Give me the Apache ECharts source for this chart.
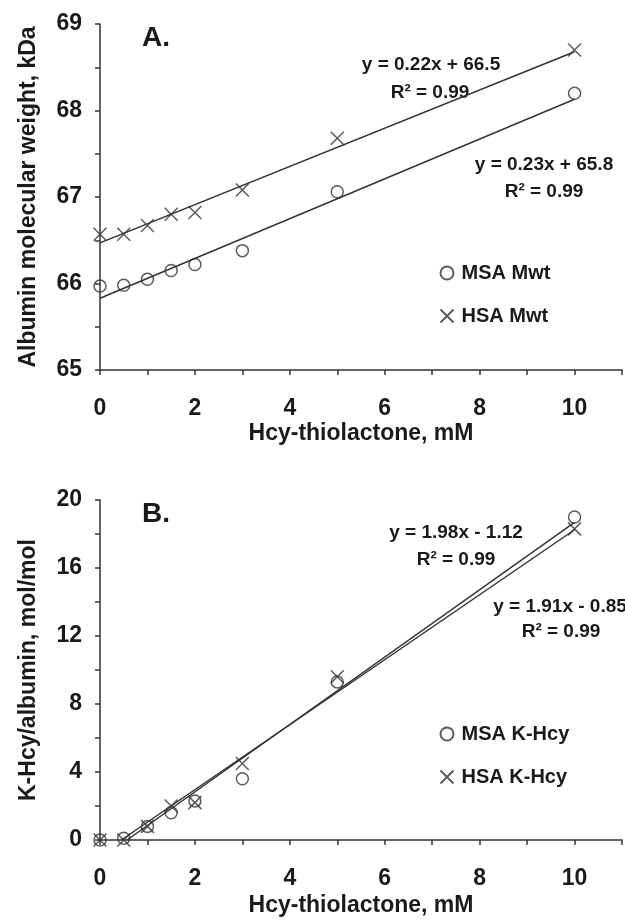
<!DOCTYPE html>
<html>
<head>
<meta charset="utf-8">
<script src="https://cdn.jsdelivr.net/npm/echarts@6/dist/echarts.min.js"></script>
<style>
  html, body { margin: 0; padding: 0; background: #fff; }
  #chart { width: 625px; height: 921px; }
</style>
</head>
<body>
<div id="chart"></div>
<script>
// x values shared by both panels (Hcy-thiolactone, mM)
let conc = [0, 0.5, 1, 1.5, 2, 3, 5, 10];

// panel A: albumin molecular weight, kDa
let msaMwt = [65.97, 65.98, 66.05, 66.15, 66.22, 66.38, 67.06, 68.2];
let hsaMwt = [66.57, 66.57, 66.67, 66.8, 66.82, 67.08, 67.68, 68.7];
let msaMwtFit = [[0, 65.83], [10, 68.13]];
let hsaMwtFit = [[0, 66.47], [10, 68.68]];

// panel B: K-Hcy/albumin, mol/mol
let msaKhcy = [0, 0.1, 0.8, 1.6, 2.3, 3.6, 9.3, 19.0];
let hsaKhcy = [0, 0, 0.8, 2.0, 2.2, 4.5, 9.6, 18.3];
let msaKhcyFit = [[0.57, 0], [10, 18.68]];
let hsaKhcyFit = [[0.45, 0], [10, 18.25]];

let xTicks = [0, 2, 4, 6, 8, 10];

let ink = '#333';
let txt = '#1a1a1a';
let fontFam = '"Liberation Sans", Arial, sans-serif';
let cross = 'path://M0,0L10,10M10,0L0,10';

function pairs(ys) {
	return conc.map((x, i) => [x, ys[i]]);
}

function xAxis(idx) {
	return {
		type: 'value', gridIndex: idx, min: 0, max: 11, interval: 1,
		name: 'Hcy-thiolactone, mM', nameLocation: 'middle', nameGap: idx ? 54 : 52,
		nameTextStyle: { fontSize: 23, fontWeight: 'bold', color: txt, fontFamily: fontFam },
		axisLine: { lineStyle: { color: ink, width: 1.5 } },
		axisTick: { inside: false, length: 5, lineStyle: { color: ink, width: 1.5 } },
		axisLabel: {
			margin: 27, fontSize: 23, fontWeight: 'bold', color: txt, fontFamily: fontFam,
			formatter: v => xTicks.indexOf(v) >= 0 ? String(v) : ''
		},
		splitLine: { show: false }
	};
}

function yAxis(idx, name, min, max, step) {
	return {
		type: 'value', gridIndex: idx, min: min, max: max, interval: step,
		name: name, nameLocation: 'middle', nameGap: 60,
		nameTextStyle: { fontSize: 23, fontWeight: 'bold', color: txt, fontFamily: fontFam },
		axisLine: { show: true, lineStyle: { color: ink, width: 1.5 } },
		axisTick: { show: true, length: 5, lineStyle: { color: ink, width: 1.5 } },
		minorTick: { show: true, splitNumber: 2, length: 5, lineStyle: { color: ink, width: 1.5 } },
		axisLabel: { margin: 18, fontSize: 23, fontWeight: 'bold', color: txt, fontFamily: fontFam },
		splitLine: { show: false }
	};
}

function scatter(name, idx, ys, symbol, size) {
	return {
		name: name, type: 'scatter', xAxisIndex: idx, yAxisIndex: idx,
		data: pairs(ys), symbol: symbol, symbolSize: size,
		itemStyle: { color: 'none', borderColor: ink, borderWidth: 1.5 }
	};
}

function fit(idx, pts) {
	return {
		type: 'line', xAxisIndex: idx, yAxisIndex: idx, data: pts,
		showSymbol: false, silent: true, clip: true,
		lineStyle: { color: ink, width: 1.5 }
	};
}

function label(text, x, y, size) {
	return {
		type: 'text', x: x, y: y, silent: true,
		style: {
			text: text, fill: txt, font: 'bold ' + size + 'px ' + fontFam,
			textAlign: 'center', textVerticalAlign: 'middle',
			align: 'center', verticalAlign: 'middle'
		}
	};
}

function legend(names, top) {
	return {
		data: names, orient: 'vertical', left: 433, top: top,
		itemWidth: 13, itemHeight: 13, itemGap: 23,
		textStyle: { fontSize: 20, fontWeight: 'bold', color: txt, fontFamily: fontFam, padding: [0, 0, 0, 3] }
	};
}

let myChart = echarts.init(document.getElementById('chart'), null, { renderer: 'canvas' });

let option = {
	animation: false,
	backgroundColor: '#fff',
	grid: [
		{ left: 100, top: 24, width: 522, height: 346 },
		{ left: 100, top: 500, width: 522, height: 340 }
	],
	xAxis: [xAxis(0), xAxis(1)],
	yAxis: [
		yAxis(0, 'Albumin molecular weight, kDa', 65, 69, 1),
		yAxis(1, 'K-Hcy/albumin, mol/mol', 0, 20, 4)
	],
	legend: [
		legend(['MSA Mwt', 'HSA Mwt'], 258),
		legend(['MSA K-Hcy', 'HSA K-Hcy'], 719)
	],
	graphic: [
		label('A.', 156, 38, 28),
		label('y = 0.22x + 66.5', 431, 65, 19),
		label('R² = 0.99', 430, 93, 19),
		label('y = 0.23x + 65.8', 544, 165, 19),
		label('R² = 0.99', 544, 192, 19),
		label('B.', 156, 514, 28),
		label('y = 1.98x - 1.12', 456, 533, 19),
		label('R² = 0.99', 456, 560, 19),
		label('y = 1.91x - 0.85', 560, 607, 19),
		label('R² = 0.99', 561, 632, 19)
	],
	series: [
		fit(0, msaMwtFit),
		fit(0, hsaMwtFit),
		scatter('MSA Mwt', 0, msaMwt, 'circle', 12),
		scatter('HSA Mwt', 0, hsaMwt, cross, 13),
		fit(1, msaKhcyFit),
		fit(1, hsaKhcyFit),
		scatter('MSA K-Hcy', 1, msaKhcy, 'circle', 12),
		scatter('HSA K-Hcy', 1, hsaKhcy, cross, 13)
	]
};

myChart.setOption(option);
</script>
</body>
</html>
